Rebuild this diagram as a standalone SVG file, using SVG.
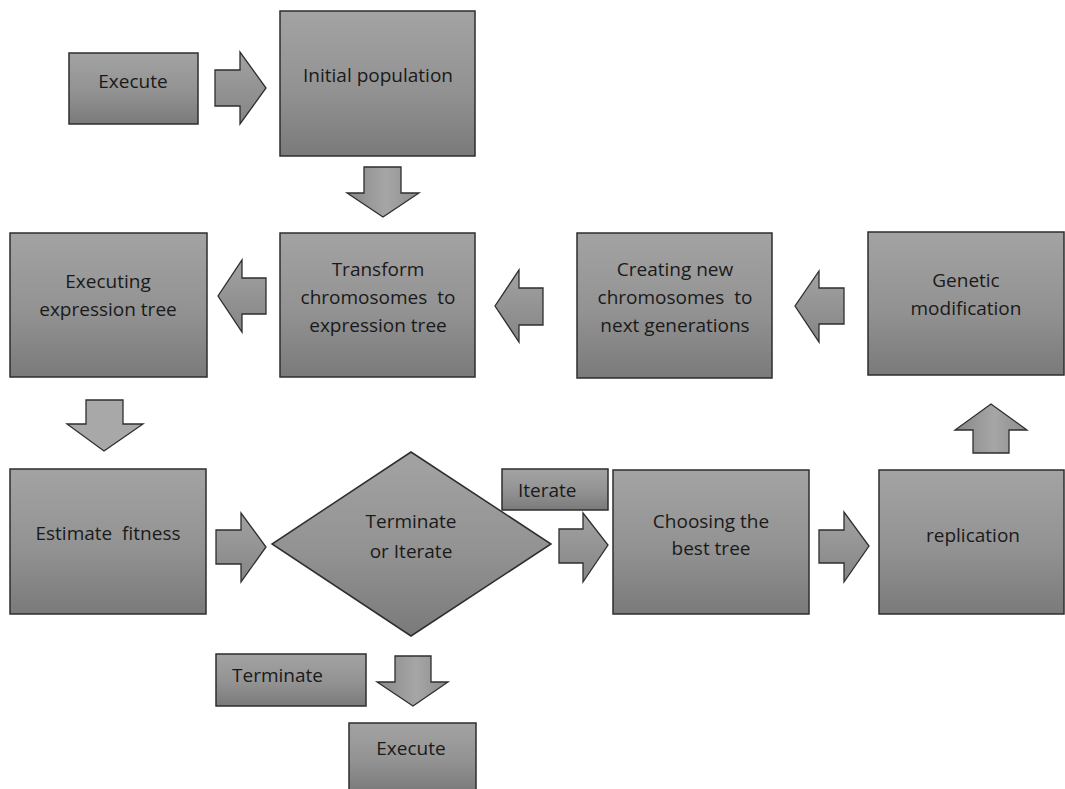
<svg xmlns="http://www.w3.org/2000/svg" width="1065" height="789" viewBox="0 0 1065 789">
  <defs>
    <linearGradient id="boxFill" x1="0" y1="0" x2="0" y2="1">
      <stop offset="0" stop-color="#a3a3a3"/>
      <stop offset="0.55" stop-color="#929292"/>
      <stop offset="1" stop-color="#7a7a7a"/>
    </linearGradient>
    <linearGradient id="arrowH" x1="0" y1="0" x2="0" y2="1">
      <stop offset="0" stop-color="#a2a2a2"/>
      <stop offset="1" stop-color="#858585"/>
    </linearGradient>
    <linearGradient id="arrowV" x1="0" y1="0" x2="1" y2="0">
      <stop offset="0" stop-color="#888888"/>
      <stop offset="0.55" stop-color="#a6a6a6"/>
      <stop offset="1" stop-color="#8c8c8c"/>
    </linearGradient>
    <style>
      .box { fill: url(#boxFill); stroke: #2e2e2e; stroke-width: 1.5; }
      .arr { fill: url(#arrowH); stroke: #2e2e2e; stroke-width: 1.3; stroke-linejoin: miter; }
      .arrv { fill: url(#arrowV); stroke: #2e2e2e; stroke-width: 1.3; }
      .arrl { fill: #a8a8a8; stroke: #2e2e2e; stroke-width: 1.3; }
      .lbl { font-family: "Open Sans", "Noto Sans", "Liberation Sans", sans-serif; font-size: 19px; fill: #1a1a1a; text-anchor: middle; }
      .lft { text-anchor: start; }
    </style>
  </defs>
  <rect width="1065" height="789" fill="#ffffff"/>

  <!-- block arrows between steps -->
  <g id="connectors">
    <polygon class="arr" points="215,70 240,70 240,52 266,88 240,124 240,106 215,106"/>
    <polygon class="arrv" points="364,167 401,167 401,193 419,193 383,217 347,193 364,193"/>
    <polygon class="arr" points="266,278 242,278 242,260 218,296 242,332 242,314 266,314"/>
    <polygon class="arr" points="543,288 519,288 519,270 495,306 519,342 519,325 543,325"/>
    <polygon class="arr" points="844,288 819,288 819,271 795,306 819,342 819,324 844,324"/>
    <polygon class="arrl" points="86,400 123,400 123,424 143,424 104,451 67,424 86,424"/>
    <polygon class="arrv" points="973,453 1009,453 1009,430 1027,430 991,404 955,430 973,430"/>
    <polygon class="arr" points="216,530 241,530 241,513 266,547 241,582 241,564 216,564"/>
    <polygon class="arr" points="559,529 583,529 583,513 608,545 583,582 583,563 559,563"/>
    <polygon class="arr" points="819,530 844,530 844,512 869,546 844,582 844,563 819,563"/>
    <polygon class="arrv" points="395,656 431,656 431,682 448,682 413,706 377,682 395,682"/>
  </g>

  <g id="execute-start">
    <rect class="box" x="69" y="53" width="129" height="71"/>
    <text class="lbl" x="133" y="88">Execute</text>
  </g>

  <g id="initial-population">
    <rect class="box" x="280" y="11" width="195" height="145"/>
    <text class="lbl" x="378" y="82">Initial population</text>
  </g>

  <g id="executing-tree">
    <rect class="box" x="10" y="233" width="197" height="144"/>
    <text class="lbl" x="108" y="288">Executing</text>
    <text class="lbl" x="108" y="316">expression tree</text>
  </g>

  <g id="transform">
    <rect class="box" x="280" y="233" width="195" height="144"/>
    <text class="lbl" x="378" y="276">Transform</text>
    <text class="lbl" x="378" y="304" xml:space="preserve">chromosomes  to</text>
    <text class="lbl" x="378" y="332">expression tree</text>
  </g>

  <g id="creating">
    <rect class="box" x="577" y="233" width="195" height="145"/>
    <text class="lbl" x="675" y="276">Creating new</text>
    <text class="lbl" x="675" y="304" xml:space="preserve">chromosomes  to</text>
    <text class="lbl" x="675" y="332">next generations</text>
  </g>

  <g id="genetic-modification">
    <rect class="box" x="868" y="232" width="196" height="143"/>
    <text class="lbl" x="966" y="287">Genetic</text>
    <text class="lbl" x="966" y="315">modification</text>
  </g>

  <g id="estimate-fitness">
    <rect class="box" x="10" y="469" width="196" height="145"/>
    <text class="lbl" x="108" y="540" xml:space="preserve">Estimate  fitness</text>
  </g>

  <g id="decision">
    <polygon class="box" points="411,452 551,544 411,636 272,544"/>
    <text class="lbl" x="411" y="528">Terminate</text>
    <text class="lbl" x="411" y="558">or Iterate</text>
  </g>

  <g id="iterate-label">
    <rect class="box" x="502" y="469" width="106" height="41"/>
    <text class="lbl lft" x="518" y="497">Iterate</text>
  </g>

  <g id="choosing-best">
    <rect class="box" x="613" y="470" width="196" height="144"/>
    <text class="lbl" x="711" y="528">Choosing the</text>
    <text class="lbl" x="711" y="555">best tree</text>
  </g>

  <g id="replication">
    <rect class="box" x="879" y="470" width="185" height="144"/>
    <text class="lbl" x="973" y="542">replication</text>
  </g>

  <g id="terminate-label">
    <rect class="box" x="216" y="654" width="150" height="52"/>
    <text class="lbl lft" x="232" y="682">Terminate</text>
  </g>

  <g id="execute-end">
    <rect class="box" x="349" y="723" width="127" height="70"/>
    <text class="lbl" x="411" y="755">Execute</text>
  </g>
</svg>
